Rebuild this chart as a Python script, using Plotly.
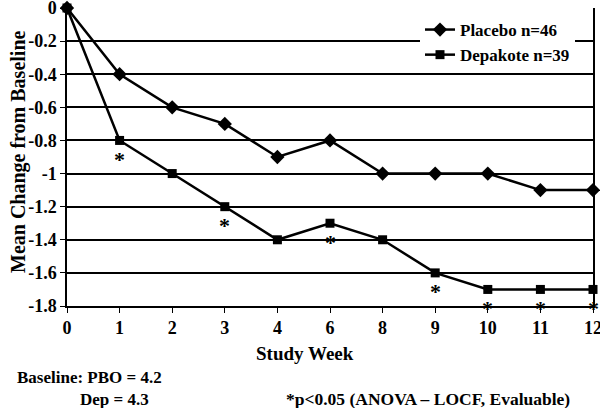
import plotly.graph_objects as go

weeks = ["0", "1", "2", "3", "4", "6", "8", "9", "10", "11", "12"]
placebo = [0, -0.4, -0.6, -0.7, -0.9, -0.8, -1.0, -1.0, -1.0, -1.1, -1.1]
depakote = [0, -0.8, -1.0, -1.2, -1.4, -1.3, -1.4, -1.6, -1.7, -1.7, -1.7]
sig_weeks = ["1", "3", "6", "9", "10", "11", "12"]
ytick_vals = [0, -0.2, -0.4, -0.6, -0.8, -1.0, -1.2, -1.4, -1.6, -1.8]
ytick_text = ["0", "-0.2", "-0.4", "-0.6", "-0.8", "-1", "-1.2", "-1.4", "-1.6", "-1.8"]

FONT = "Liberation Serif"
L, R, T, B = 67, 7, 8, 102
PW, PH = 600 - L - R, 408 - T - B

fig = go.Figure()
fig.add_trace(go.Scatter(
    x=weeks, y=placebo, name="<b>Placebo n=46</b>", mode="lines+markers",
    line=dict(color="black", width=2.5),
    marker=dict(symbol="diamond", size=11, color="black"),
    cliponaxis=False,
))
fig.add_trace(go.Scatter(
    x=weeks, y=depakote, name="<b>Depakote n=39</b>", mode="lines+markers",
    line=dict(color="black", width=2.5),
    marker=dict(symbol="square", size=9, color="black"),
    cliponaxis=False,
))

annotations = []
for w in sig_weeks:
    i = weeks.index(w)
    annotations.append(dict(
        x=i, y=depakote[i], xref="x", yref="y", text="<b>*</b>", showarrow=False,
        yshift=-19, font=dict(family=FONT, size=22, color="black"),
    ))


def px_to_paper(px, py):
    return (px - L) / PW, (408 - B - py) / PH


notes = [
    ("<b>Baseline: PBO = 4.2</b>", 15, 377, "left", 17, 0),
    ("<b>Dep = 4.3</b>", 78, 399, "left", 17, 0),
    ("<b>*p&lt;0.05 (ANOVA – LOCF, Evaluable)</b>", 428, 399, "center", 17.5, 0),
    ("<b>Study Week</b>", 305, 353, "center", 19, 0),
    ("<b>Mean Change from Baseline</b>", 18, 152, "center", 20, -90),
]
for text, px, py, anchor, size, ang in notes:
    x, y = px_to_paper(px, py)
    annotations.append(dict(x=x, y=y, xref="paper", yref="paper", text=text,
                            showarrow=False, xanchor=anchor, yanchor="middle",
                            textangle=ang,
                            font=dict(family=FONT, size=size, color="black")))

lx, ly = px_to_paper(420, 12)

fig.update_layout(
    width=600, height=408,
    margin=dict(l=L, r=R, t=T, b=B),
    paper_bgcolor="white", plot_bgcolor="white",
    font=dict(family=FONT, size=18, color="black"),
    showlegend=True,
    legend=dict(x=lx, y=ly, xanchor="left", yanchor="top",
                bgcolor="white", borderwidth=0,
                font=dict(family=FONT, size=17, color="black"),
                itemwidth=30, tracegroupgap=0),
    annotations=annotations,
    xaxis=dict(
        type="category", range=[0, 10], showgrid=False, automargin=False,
        showline=True, linecolor="black", linewidth=1.5,
        ticks="outside", ticklen=5, tickcolor="black",
        tickfont=dict(family=FONT, size=18, color="black"),
        ticklabeloverflow="allow",
        tickprefix="<b>", ticksuffix="</b>",
        zeroline=False,
    ),
    yaxis=dict(
        range=[-1.8, 0], tickvals=ytick_vals, ticktext=["<b>" + t + "</b>" for t in ytick_text],
        showgrid=True, gridcolor="black", gridwidth=1.5, automargin=False,
        showline=True, linecolor="black", linewidth=1.5, mirror=True,
        ticks="outside", ticklen=5, tickcolor="black",
        tickfont=dict(family=FONT, size=18, color="black"),
        ticklabeloverflow="allow",
        zeroline=False,
    ),
)
fig.write_html("out.html", config={"displayModeBar": False},
               post_script="document.body.style.margin='0';document.body.style.padding='0';")
